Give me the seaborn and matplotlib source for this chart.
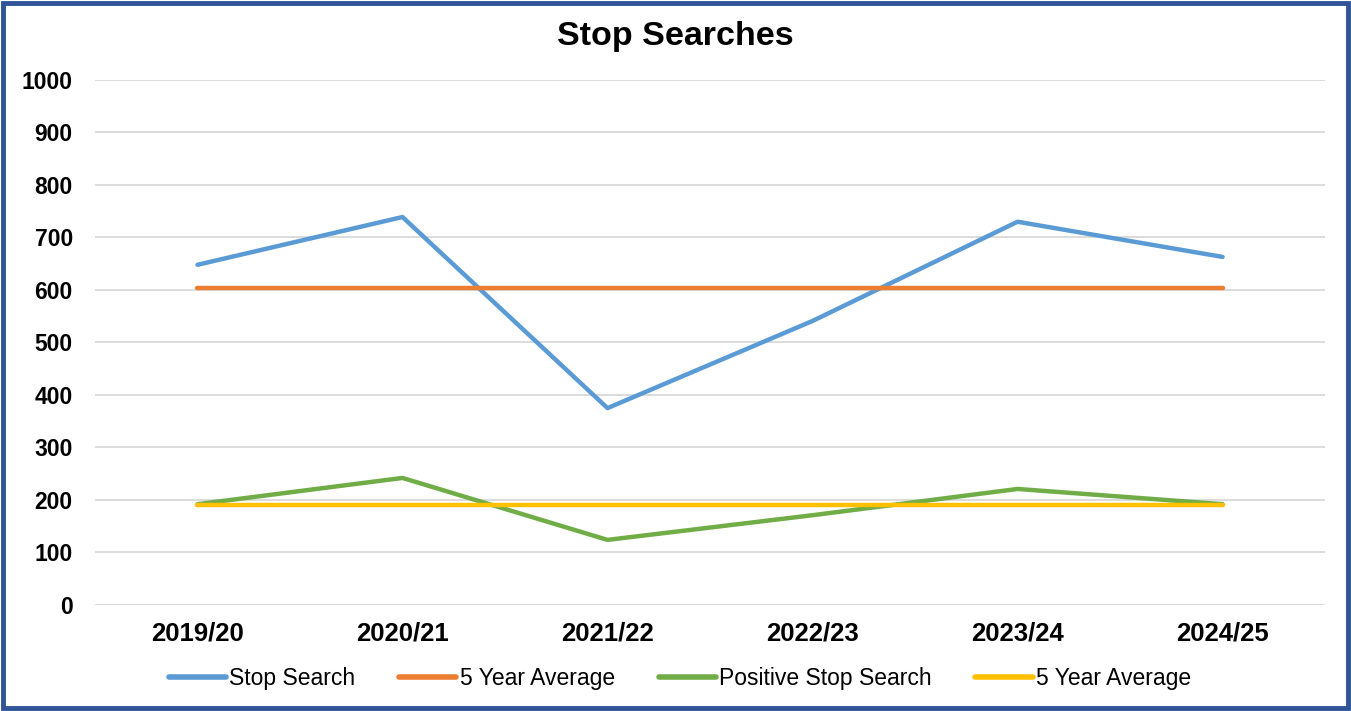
import matplotlib
matplotlib.use("Agg")
import matplotlib.pyplot as plt
import pandas as pd
import seaborn as sns
from matplotlib.patches import Rectangle

# Dados
years = ["2019/20", "2020/21", "2021/22", "2022/23", "2023/24", "2024/25"]
stop_search = [648, 739, 375, 541, 730, 663]
stop_search_avg = [604, 604, 604, 604, 604, 604]
positive_search = [192, 242, 124, 171, 221, 192]
positive_search_avg = [190, 190, 190, 190, 190, 190]

COLORS = {
    "Stop Search": "#5B9BD5",
    "5 Year Average (SS)": "#ED7D31",
    "Positive Stop Search": "#70AD47",
    "5 Year Average (PSS)": "#FFC000",
}

sns.set_theme(style="white")
plt.rcParams["font.family"] = ["Liberation Sans", "DejaVu Sans"]
plt.rcParams["text.color"] = "black"
plt.rcParams["xtick.color"] = "black"
plt.rcParams["ytick.color"] = "black"

fig = plt.figure(figsize=(13.51, 7.11), dpi=100)
ax = fig.add_axes([0.0703, 0.1491, 0.9105, 0.7384])

df = pd.DataFrame({"year": years, "ss": stop_search, "ss_avg": stop_search_avg,
                   "pss": positive_search, "pss_avg": positive_search_avg})

series = [
    ("ss", "Stop Search", COLORS["Stop Search"]),
    ("ss_avg", "5 Year Average", COLORS["5 Year Average (SS)"]),
    ("pss", "Positive Stop Search", COLORS["Positive Stop Search"]),
    ("pss_avg", "5 Year Average", COLORS["5 Year Average (PSS)"]),
]
for col, label, color in series:
    sns.lineplot(data=df, x="year", y=col, ax=ax, color=color, linewidth=3.2,
                 label=label, solid_capstyle="round", sort=False)

ax.set_xlim(-0.5, 5.5)
ax.set_ylim(0, 1000)
ax.set_yticks(range(0, 1001, 100))
ax.grid(axis="y", color="#D9D9D9", linewidth=1.3)
ax.set_axisbelow(True)
for s in ax.spines.values():
    s.set_visible(False)
ax.set_xlabel("")
ax.set_ylabel("")
ax.tick_params(axis="y", length=0, pad=16, labelsize=16.5)
ax.tick_params(axis="x", length=0, pad=12, labelsize=18.5)
for lbl in ax.get_xticklabels() + ax.get_yticklabels():
    lbl.set_fontweight("bold")

fig.text(0.5, 0.949, "Stop Searches", ha="center", va="center",
         fontsize=24.5, fontweight="bold")

leg = ax.legend(loc="center", bbox_to_anchor=(0.4756, -0.1403), ncol=4, frameon=False,
                prop={"size": 16.5}, labelcolor="black",
                handlelength=2.5, handletextpad=0.15, columnspacing=1.9)
for line in leg.get_lines():
    line.set_linewidth(4)

# Moldura azul em volta da figura
fig.patches.append(Rectangle((0.0025, 0.004), 0.995, 0.992, transform=fig.transFigure,
                             fill=False, edgecolor="#2F5597", linewidth=3.5))

fig.savefig("out.png", dpi=100, facecolor="white")
